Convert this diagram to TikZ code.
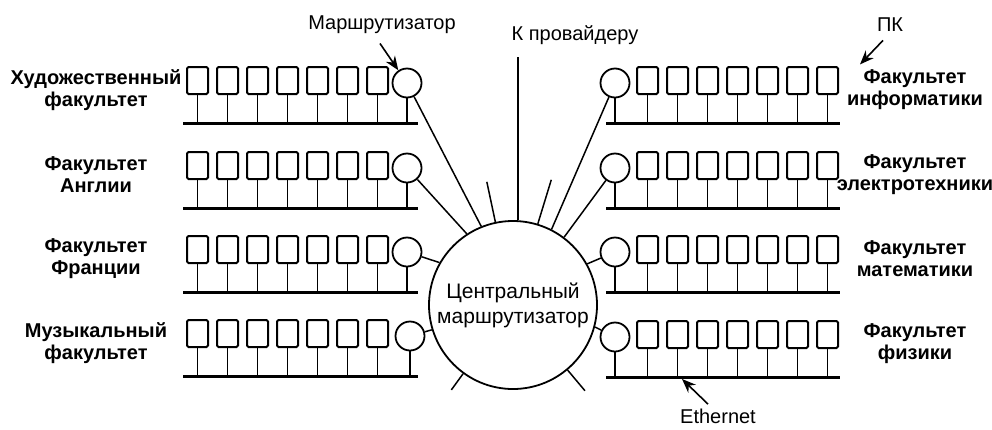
\documentclass[tikz,border=0pt]{standalone}
\usepackage{fontspec}
\setmainfont{Liberation Sans}
\usetikzlibrary{arrows.meta,calc}
\begin{document}
\begin{tikzpicture}[x=1pt,y=-1pt,
  pc/.style={draw, line width=2pt, rounded corners=1.5pt, minimum width=21pt, minimum height=27pt, inner sep=0pt},
  router/.style={draw, circle, line width=1.8pt, minimum size=29pt, inner sep=0pt},
  wire/.style={line width=1.6pt},
  bus/.style={line width=3pt},
  link/.style={line width=1.5pt},
  lbl/.style={font=\fontsize{20}{22}\selectfont\bfseries, align=center},
  note/.style={font=\fontsize{20}{22}\selectfont},
  arr/.style={line width=1.6pt, -{Stealth[length=14pt,width=11pt]}}
]
\useasboundingbox (0,0) rectangle (992,429);

% central router
\node[draw, circle, line width=1.8pt, minimum size=168pt, inner sep=0pt, align=center,
      font=\fontsize{21}{25}\selectfont] (c) at (513,305) {Центральный\\маршрутизатор};

% left departments
\foreach \r/\yb/\rx/\txt in {1/123/407/{Художественный\\факультет}, 2/208/407/{Факультет\\Англии}, 3/292/407/{Факультет\\Франции}, 4/376/410/{Музыкальный\\факультет}} {
  \coordinate (L\r-bw) at (183,\yb);
  \coordinate (L\r-be) at (418,\yb);
  \draw[bus] (L\r-bw) -- (L\r-be);
  \foreach \k in {0,...,6} {
    \node[pc] (L\r-p\k) at ({197.5+30*\k},{\yb-42.5}) {};
    \draw[wire] (L\r-p\k.south) -- (L\r-p\k.south |- L\r-bw);
  }
  \node[router] (L\r-r) at (\rx,{\yb-40}) {};
  \draw[wire] (L\r-r.south) -- (L\r-r.south |- L\r-bw);
  \node[lbl] (L\r-t) at (96,{\yb-33}) {\txt};
}

% right departments
\foreach \r/\yb/\txt in {1/123/{Факультет\\информатики}, 2/208/{Факультет\\электротехники}, 3/292/{Факультет\\математики}, 4/377/{Факультет\\физики}} {
  \coordinate (R\r-bw) at (606,\yb);
  \coordinate (R\r-be) at (840,\yb);
  \draw[bus] (R\r-bw) -- (R\r-be);
  \foreach \k in {0,...,6} {
    \node[pc] (R\r-p\k) at ({647.5+30*\k},{\yb-42.5}) {};
    \draw[wire] (R\r-p\k.south) -- (R\r-p\k.south |- R\r-bw);
  }
  \node[router] (R\r-r) at (615,{\yb-40}) {};
  \draw[wire] (R\r-r.south) -- (R\r-r.south |- R\r-bw);
  \node[lbl] (R\r-t) at (915,{\yb-33}) {\txt};
}

% links to central router
\draw[link] (L1-r) -- (c.112);
\draw[link] (L2-r) -- (c.123);
\draw[link] (L3-r) -- (c.150);
\draw[link] (L4-r) -- (c.197);
\draw[link] (R1-r) -- (c.63);
\draw[link] (R2-r) -- (c.53);
\draw[link] (R3-r) -- (c.29);
\draw[link] (R4-r) -- (c.-15);

% unused ports
\draw[link] (c.102) -- ++(102:41pt);
\draw[link] (c.73) -- ++(73:46pt);
\draw[link] (c.234) -- ++(234:20pt);
\draw[link] (c.310) -- ++(310:27pt);

% uplink
\coordinate (provtop) at (518,57);
\draw[line width=2pt] (provtop) -- (provtop |- c.north);

% annotations
\node[note] (mlbl) at (382,25) {Маршрутизатор};
\node[note] (prov) at (575,35) {К провайдеру};
\node[note] (pk) at (890,25) {ПК};
\node[note] (eth) at (718,416) {Ethernet};

\draw[arr] ($(mlbl.south)+(-2,6)$) -- (L1-r);
\draw[arr] ($(pk.south)+(-7,5)$) -- ($(pk.south)+(-30,29)$);
\coordinate (ethtip) at (682,379);
\draw[arr] ($(eth.north)+(-10,-1)$) -- (ethtip);
\end{tikzpicture}
\end{document}
